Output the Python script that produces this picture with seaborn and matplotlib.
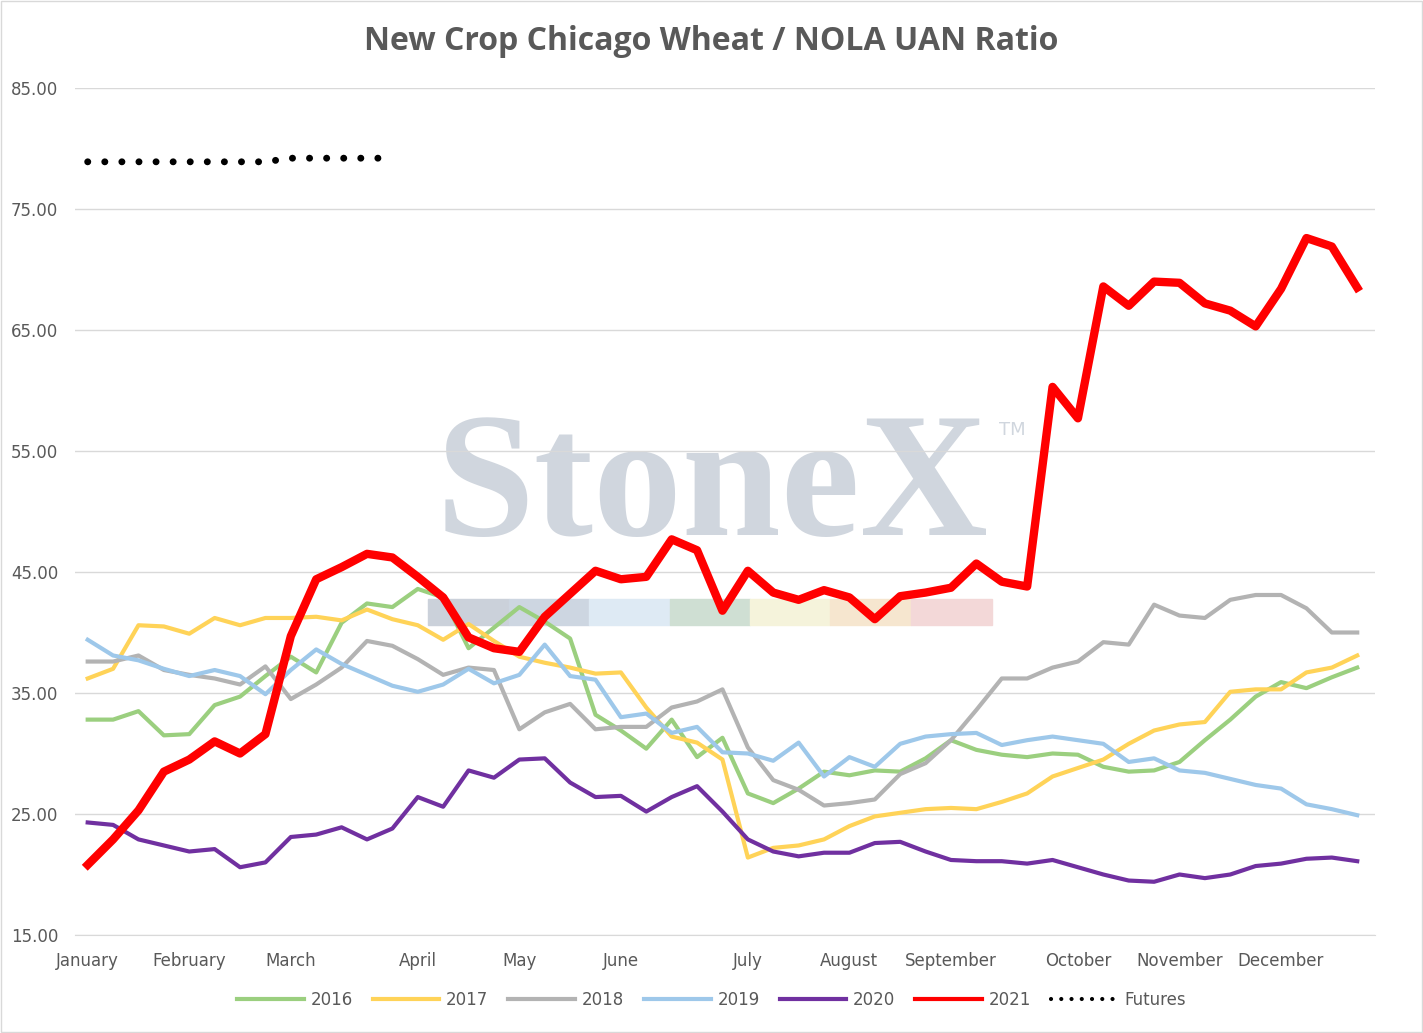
import numpy as np
import pandas as pd
import matplotlib
matplotlib.use("Agg")
import matplotlib.pyplot as plt
import seaborn as sns
from matplotlib.patches import Rectangle

months = ["January", "February", "March", "April", "May", "June", "July",
          "August", "September", "October", "November", "December"]
month_weeks = [0, 4, 8, 13, 17, 21, 26, 30, 34, 39, 43, 47]

y2016 = [32.8, 32.8, 33.5, 31.5, 31.6, 34.0, 34.7, 36.4, 38.0, 36.7, 40.8, 42.4, 42.1, 43.6, 42.9,
         38.7, 40.4, 42.1, 40.9, 39.5, 33.2, 31.9, 30.4, 32.8, 29.7, 31.3, 26.7, 25.9, 27.1, 28.5,
         28.2, 28.6, 28.5, 29.6, 31.1, 30.3, 29.9, 29.7, 30.0, 29.9, 28.9, 28.5, 28.6, 29.3, 31.1,
         32.8, 34.7, 35.9, 35.4, 36.3, 37.1]
y2017 = [36.2, 37.0, 40.6, 40.5, 39.9, 41.2, 40.6, 41.2, 41.2, 41.3, 41.0, 41.9, 41.1, 40.6, 39.4,
         40.7, 39.3, 38.0, 37.5, 37.1, 36.6, 36.7, 33.8, 31.4, 30.9, 29.5, 21.4, 22.2, 22.4, 22.9,
         24.0, 24.8, 25.1, 25.4, 25.5, 25.4, 26.0, 26.7, 28.1, 28.8, 29.5, 30.8, 31.9, 32.4, 32.6,
         35.1, 35.3, 35.3, 36.7, 37.1, 38.1]
y2018 = [37.6, 37.6, 38.1, 36.9, 36.5, 36.2, 35.7, 37.2, 34.5, 35.7, 37.1, 39.3, 38.9, 37.8, 36.5,
         37.1, 36.9, 32.0, 33.4, 34.1, 32.0, 32.2, 32.2, 33.8, 34.3, 35.3, 30.5, 27.8, 27.0, 25.7,
         25.9, 26.2, 28.3, 29.2, 31.1, 33.6, 36.2, 36.2, 37.1, 37.6, 39.2, 39.0, 42.3, 41.4, 41.2,
         42.7, 43.1, 43.1, 42.0, 40.0, 40.0]
y2019 = [39.4, 38.1, 37.7, 37.0, 36.4, 36.9, 36.4, 34.9, 36.9, 38.6, 37.4, 36.5, 35.6, 35.1, 35.7,
         37.0, 35.8, 36.5, 39.0, 36.4, 36.1, 33.0, 33.3, 31.7, 32.2, 30.1, 30.0, 29.4, 30.9, 28.1,
         29.7, 28.9, 30.8, 31.4, 31.6, 31.7, 30.7, 31.1, 31.4, 31.1, 30.8, 29.3, 29.6, 28.6, 28.4,
         27.9, 27.4, 27.1, 25.8, 25.4, 24.9]
y2020 = [24.3, 24.1, 22.9, 22.4, 21.9, 22.1, 20.6, 21.0, 23.1, 23.3, 23.9, 22.9, 23.8, 26.4, 25.6,
         28.6, 28.0, 29.5, 29.6, 27.6, 26.4, 26.5, 25.2, 26.4, 27.3, 25.2, 22.9, 21.9, 21.5, 21.8,
         21.8, 22.6, 22.7, 21.9, 21.2, 21.1, 21.1, 20.9, 21.2, 20.6, 20.0, 19.5, 19.4, 20.0, 19.7,
         20.0, 20.7, 20.9, 21.3, 21.4, 21.1]
y2021 = [20.8, 22.9, 25.3, 28.5, 29.5, 31.0, 30.0, 31.6, 39.7, 44.4, 45.4, 46.5, 46.2, 44.6, 42.9,
         39.6, 38.7, 38.4, 41.3, 43.2, 45.1, 44.4, 44.6, 47.7, 46.8, 41.8, 45.1, 43.3, 42.7, 43.5,
         42.9, 41.1, 43.0, 43.3, 43.7, 45.7, 44.2, 43.8, 60.3, 57.7, 68.6, 67.0, 69.0, 68.9, 67.2,
         66.6, 65.3, 68.4, 72.6, 71.9, 68.5]
futures = [78.9, 78.9, 78.9, 78.9, 78.9, 78.9, 78.9, 78.9, 79.2, 79.2, 79.2, 79.2, 79.2]

weeks = np.arange(len(y2021))

fig = plt.figure(figsize=(14.23, 10.33), dpi=100)
ax = fig.add_axes([75 / 1423, 98 / 1033, 1300 / 1423, 847 / 1033])
ax.set_zorder(2)
ax.patch.set_alpha(0)

# watermark
fig.text(712 / 1423, 1 - 492 / 1033, "StoneX", fontsize=128, color="#d0d6de", family="Liberation Serif",
         fontweight="bold", ha="center", va="center", zorder=0)
fig.text(1012 / 1423, 1 - 430 / 1033, "TM", fontsize=13, color="#d0d6de", ha="center", va="center", zorder=0)
strip = ["#cbd1da", "#cdd6e1", "#deeaf4", "#cfdfd3", "#f5f3db", "#f6e6cf", "#f3d8d8"]
for k, c in enumerate(strip):
    fig.patches.append(Rectangle(((428 + k * 80.5) / 1423, 1 - 625 / 1033), 80.5 / 1423, 26 / 1033,
                                 transform=fig.transFigure, color=c, zorder=0))

series = [("2016", y2016, "#9bcf7f", 3), ("2017", y2017, "#ffd358", 3),
          ("2018", y2018, "#b3b3b3", 3), ("2019", y2019, "#9ec8ea", 3),
          ("2020", y2020, "#7030a0", 3), ("2021", y2021, "#ff0000", 6)]
for name, vals, col, lw in series:
    sns.lineplot(x=weeks, y=vals, ax=ax, color=col, lw=lw, label=name)
sns.lineplot(x=weeks[:len(futures)], y=futures, ax=ax, color="black", lw=5,
             linestyle=(0, (0.01, 2.45)), label="Futures")
ax.lines[-1].set_dash_capstyle("round")

ax.set_xlim(-0.5, 50.7)
ax.set_ylim(15, 85)
ax.set_yticks(np.arange(15, 86, 10))
ax.set_yticklabels([f"{v:.2f}" for v in np.arange(15, 86, 10)], color="#595959", fontsize=12)
ax.set_xticks(month_weeks)
ax.set_xticklabels(months, color="#595959", fontsize=12)
ax.tick_params(length=0, pad=12)
ax.yaxis.grid(True, color="#d9d9d9", lw=1)
ax.set_axisbelow(True)
for s in ["top", "right", "left"]:
    ax.spines[s].set_visible(False)
ax.spines["bottom"].set_color("#d9d9d9")
ax.set_xlabel("")
ax.set_ylabel("")

fig.text(0.5, 1 - 42 / 1033, "New Crop Chicago Wheat / NOLA UAN Ratio", ha="center", va="center",
         fontsize=23, fontweight="bold", color="#595959", family="Open Sans")

h, l = ax.get_legend_handles_labels()
leg = fig.legend(h, l, loc="center", bbox_to_anchor=(0.5, 1 - 1000 / 1033), ncol=7, frameon=False,
                 fontsize=12, handlelength=4, columnspacing=1.2, handletextpad=0.4)
for t in leg.get_texts():
    t.set_color("#595959")
for ln in leg.get_lines():
    ln.set_linewidth(3)
if ax.legend_:
    ax.legend_.remove()

fig.patches.append(Rectangle((0.001, 0.001), 0.998, 0.998, transform=fig.transFigure,
                             fill=False, edgecolor="#d9d9d9", lw=1))
fig.savefig("out.png", dpi=100)
